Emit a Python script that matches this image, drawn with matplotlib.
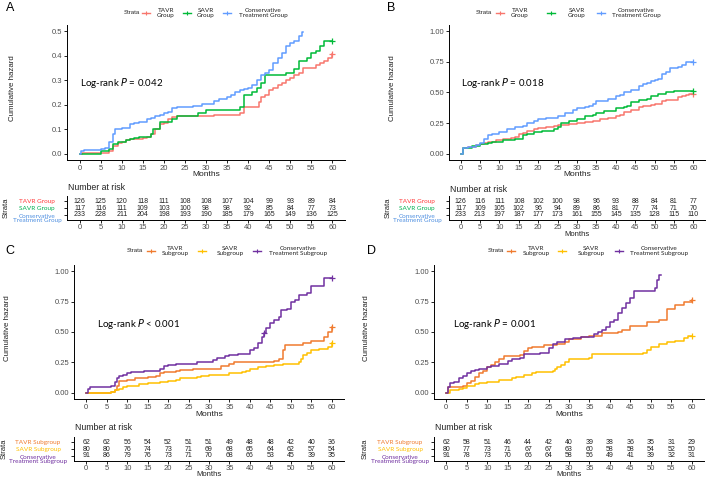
import numpy as np
import matplotlib
matplotlib.use('Agg')
import matplotlib.pyplot as plt
from matplotlib.lines import Line2D
from matplotlib import transforms

plt.rcParams['font.family'] = ['Liberation Sans', 'DejaVu Sans']

# ---------------- data ----------------
months = [0, 5, 10, 15, 20, 25, 30, 35, 40, 45, 50, 55, 60]

# Panel A
a_tavr_t = [0, 0.5, 7, 8, 9, 10, 11, 12, 15, 16, 17, 18, 19, 20, 21, 22, 23, 32, 38, 39, 42.5, 43, 44, 45, 46, 47, 48, 49, 50, 51, 52, 53, 56, 57, 58, 59, 60]
a_tavr_h = [0, 0.005, 0.01, 0.03, 0.045, 0.05, 0.055, 0.06, 0.065, 0.07, 0.08, 0.1, 0.12, 0.125, 0.14, 0.15, 0.155, 0.16, 0.165, 0.19, 0.21, 0.23, 0.24, 0.26, 0.27, 0.28, 0.29, 0.30, 0.31, 0.32, 0.33, 0.35, 0.36, 0.37, 0.38, 0.39, 0.405]
a_savr_t = [0, 5, 7, 8, 9, 11, 12, 13, 14, 17, 17.5, 19, 22, 23, 28, 30, 38, 39, 41, 42, 43, 44, 49, 51, 52, 54, 55, 56, 57, 58, 60]
a_savr_h = [0, 0.01, 0.02, 0.04, 0.05, 0.055, 0.06, 0.065, 0.07, 0.08, 0.1, 0.13, 0.14, 0.155, 0.165, 0.18, 0.19, 0.24, 0.25, 0.27, 0.29, 0.32, 0.33, 0.345, 0.38, 0.39, 0.41, 0.42, 0.44, 0.46, 0.46]
a_cons_t = [0, 0.3, 1, 5, 6, 7, 8, 8.5, 10, 12, 13, 14, 16, 17, 18, 19, 20, 21, 22, 23, 27, 29, 32, 33, 35, 36, 37, 38, 39, 40, 41, 42, 43, 44, 45, 46, 47, 48, 49, 50, 51, 52, 52.8, 53]
a_cons_h = [0, 0.01, 0.015, 0.02, 0.025, 0.05, 0.08, 0.10, 0.105, 0.12, 0.125, 0.13, 0.14, 0.145, 0.155, 0.16, 0.165, 0.17, 0.185, 0.19, 0.195, 0.205, 0.215, 0.225, 0.23, 0.24, 0.25, 0.26, 0.265, 0.27, 0.28, 0.30, 0.32, 0.33, 0.34, 0.37, 0.39, 0.41, 0.44, 0.45, 0.46, 0.48, 0.495, 0.495]
a_risk_tavr = [126, 125, 120, 118, 111, 108, 108, 107, 104, 99, 93, 89, 84]
a_risk_savr = [117, 116, 111, 109, 103, 100, 98, 98, 92, 85, 84, 77, 73]
a_risk_cons = [233, 228, 211, 204, 198, 193, 190, 185, 179, 165, 149, 136, 125]

# Panel B
b_tavr_t = [0, 0.5, 2, 4, 5, 6, 7, 9, 11, 13, 14, 15, 16, 17, 19, 20, 22, 24, 25, 28, 30, 32, 34, 36, 38, 40, 41, 42, 44, 46, 47, 49, 50, 52, 53, 56, 57, 58, 59, 60]
b_tavr_h = [0, 0.05, 0.055, 0.07, 0.08, 0.09, 0.1, 0.11, 0.12, 0.13, 0.14, 0.16, 0.17, 0.19, 0.2, 0.21, 0.22, 0.23, 0.235, 0.24, 0.25, 0.26, 0.27, 0.28, 0.29, 0.31, 0.32, 0.34, 0.36, 0.38, 0.39, 0.4, 0.41, 0.43, 0.44, 0.46, 0.47, 0.48, 0.49, 0.49]
b_savr_t = [0, 0.5, 3, 5, 7, 8, 11, 14, 16, 17, 19, 21, 24, 25, 26, 28, 30, 32, 34, 35, 37, 40, 42, 43, 44, 46, 48, 49, 51, 53, 55, 60]
b_savr_h = [0, 0.05, 0.06, 0.08, 0.09, 0.1, 0.11, 0.12, 0.15, 0.16, 0.18, 0.19, 0.2, 0.22, 0.25, 0.27, 0.28, 0.31, 0.32, 0.33, 0.35, 0.37, 0.38, 0.39, 0.42, 0.44, 0.45, 0.47, 0.49, 0.5, 0.51, 0.51]
b_cons_t = [0, 0.5, 2, 4, 5, 6, 7, 8, 10, 12, 14, 16, 17, 19, 20, 22, 25, 27, 29, 30, 32, 33, 34, 35, 38, 40, 41, 42, 44, 46, 47, 48, 49, 50, 51, 52, 53, 54, 56, 57, 58, 60]
b_cons_h = [0, 0.05, 0.055, 0.07, 0.09, 0.12, 0.15, 0.16, 0.18, 0.2, 0.22, 0.23, 0.25, 0.27, 0.28, 0.29, 0.31, 0.33, 0.36, 0.37, 0.38, 0.39, 0.41, 0.43, 0.45, 0.47, 0.48, 0.5, 0.52, 0.55, 0.57, 0.58, 0.59, 0.6, 0.61, 0.65, 0.67, 0.7, 0.71, 0.72, 0.75, 0.75]
b_risk_tavr = [126, 116, 111, 108, 102, 100, 98, 96, 93, 88, 84, 81, 77]
b_risk_savr = [117, 109, 105, 102, 96, 94, 89, 86, 81, 77, 74, 71, 70]
b_risk_cons = [233, 213, 197, 187, 177, 173, 161, 155, 145, 135, 128, 115, 110]

# Panel C
c_tavr_t = [0, 6, 7, 7.5, 8, 10, 12, 15, 17, 18, 19, 22, 23, 26, 33, 35, 36, 46, 47, 48, 48.5, 53, 55, 58, 59, 60]
c_tavr_h = [0, 0.01, 0.02, 0.06, 0.1, 0.11, 0.12, 0.13, 0.14, 0.16, 0.17, 0.18, 0.19, 0.2, 0.22, 0.24, 0.25, 0.26, 0.28, 0.35, 0.39, 0.41, 0.43, 0.46, 0.5, 0.54]
c_savr_t = [0, 6, 7, 8, 9, 10, 13, 15, 18, 20, 22, 23, 27, 28, 30, 35, 38, 39, 40, 42, 44, 46, 48, 52, 52.5, 53, 54, 55, 57, 59, 60]
c_savr_h = [0, 0.01, 0.02, 0.03, 0.05, 0.06, 0.07, 0.08, 0.09, 0.1, 0.11, 0.12, 0.13, 0.14, 0.15, 0.16, 0.17, 0.18, 0.2, 0.21, 0.22, 0.23, 0.24, 0.25, 0.28, 0.31, 0.33, 0.35, 0.36, 0.38, 0.41]
c_cons_t = [0, 0.3, 1, 5, 6, 7, 7.5, 8, 9, 10, 11, 14, 18, 19, 20, 22, 27, 31, 32, 34, 35, 37, 40, 41, 42, 43, 43.5, 44, 45, 46, 47, 47.5, 49, 50, 51, 52, 54, 55, 58, 60]
c_cons_h = [0, 0.03, 0.045, 0.05, 0.06, 0.09, 0.12, 0.14, 0.15, 0.16, 0.17, 0.18, 0.2, 0.22, 0.23, 0.24, 0.25, 0.27, 0.29, 0.3, 0.31, 0.32, 0.35, 0.37, 0.41, 0.46, 0.49, 0.53, 0.57, 0.6, 0.62, 0.68, 0.69, 0.75, 0.76, 0.8, 0.82, 0.88, 0.94, 0.94]
c_risk_tavr = [62, 62, 56, 54, 52, 51, 51, 49, 48, 48, 42, 40, 36]
c_risk_savr = [80, 80, 76, 74, 73, 71, 69, 68, 65, 64, 62, 57, 54]
c_risk_cons = [91, 86, 79, 76, 73, 71, 70, 68, 66, 53, 45, 39, 35]

# Panel D
d_tavr_t = [0, 0.5, 4, 5, 6, 7, 8, 9, 10, 11, 12, 13, 14, 18, 19, 20, 21, 24, 27, 29, 30, 33, 35, 38, 42, 43, 45, 49, 52, 54, 56, 58, 60]
d_tavr_h = [0, 0.05, 0.06, 0.08, 0.1, 0.13, 0.16, 0.18, 0.21, 0.23, 0.25, 0.28, 0.3, 0.31, 0.34, 0.37, 0.38, 0.39, 0.4, 0.42, 0.44, 0.46, 0.47, 0.49, 0.5, 0.52, 0.55, 0.58, 0.6, 0.69, 0.72, 0.75, 0.76]
d_savr_t = [0, 1, 3, 4, 5, 7, 8, 10, 13, 16, 17, 19, 21, 22, 26, 26.5, 27, 28, 29, 30, 35, 35.5, 48, 49, 50, 52, 54, 56, 58, 59, 60]
d_savr_h = [0, 0.02, 0.03, 0.04, 0.06, 0.07, 0.08, 0.09, 0.11, 0.12, 0.13, 0.15, 0.16, 0.17, 0.18, 0.2, 0.21, 0.23, 0.25, 0.28, 0.29, 0.32, 0.33, 0.35, 0.38, 0.4, 0.42, 0.43, 0.45, 0.47, 0.47]
d_cons_t = [0, 0.5, 1, 2, 3, 4, 5, 6, 7, 8, 10, 11, 13, 15, 16, 18, 19, 23, 25, 26, 27, 29, 31, 33, 36, 37, 38, 39, 40, 41, 42, 43, 44, 45, 46, 51, 51.5, 52, 52.5]
d_cons_h = [0, 0.05, 0.08, 0.09, 0.12, 0.14, 0.16, 0.18, 0.19, 0.2, 0.21, 0.22, 0.24, 0.26, 0.28, 0.29, 0.32, 0.33, 0.37, 0.4, 0.42, 0.44, 0.45, 0.46, 0.48, 0.5, 0.52, 0.54, 0.58, 0.6, 0.66, 0.7, 0.74, 0.78, 0.84, 0.86, 0.93, 0.97, 0.97]
d_risk_tavr = [62, 58, 51, 46, 44, 42, 40, 39, 38, 36, 35, 31, 29]
d_risk_savr = [80, 77, 73, 71, 67, 67, 63, 60, 58, 58, 54, 52, 50]
d_risk_cons = [91, 78, 73, 70, 66, 64, 58, 56, 49, 41, 39, 32, 31]

group_names = ['TAVR\nGroup', 'SAVR\nGroup', 'Conservative\nTreatment Group']
group_rows = ['TAVR Group', 'SAVR Group', 'Conservative\nTreatment Group']
sub_names = ['TAVR\nSubgroup', 'SAVR\nSubgroup', 'Conservative\nTreatment Subgroup']
sub_rows = ['TAVR Subgroup', 'SAVR Subgroup', 'Conservative\nTreatment Subgroup']

col_ab = ['#F8766D', '#00BA38', '#619CFF']
lab_ab = ['#FF3B3B', '#00B050', '#4F8FE0']
col_cd = ['#F07B2F', '#FFC000', '#7030A0']
lab_cd = ['#F07B2F', '#FFC000', '#7030A0']

W, H = 708, 480
fig = plt.figure(figsize=(W / 100, H / 100), dpi=100)


def fx(x):
    return x / W


def fy(y):
    return 1 - y / H


def px_axes(l, t, r, b):
    return fig.add_axes([l / W, 1 - b / H, (r - l) / W, (b - t) / H])


def style(ax, pad=1.5):
    for s in ['top', 'right']:
        ax.spines[s].set_visible(False)
    for s in ['left', 'bottom']:
        ax.spines[s].set_linewidth(0.7)
    ax.tick_params(length=2, width=0.6, labelsize=5.5, labelcolor='#4D4D4D', pad=pad)


panels = [
    dict(letter='A', lx=10, ly=8,
         plot=(67, 25, 345, 160), ylim=(-0.025, 0.525), yticks=[0, 0.1, 0.2, 0.3, 0.4, 0.5], yfmt='{:.1f}',
         curves=[(a_tavr_t, a_tavr_h), (a_savr_t, a_savr_h), (a_cons_t, a_cons_h)],
         cens=[[60], [60], []],
         colors=col_ab, labcols=lab_ab, names=group_names, rows=group_rows,
         pval='Log-rank $P$ = 0.042', pxy=(0.2, 0.289),
         ylab_x=13, xlab_y=175, leg_y=13,
         leg=[(132, 146, 166), (187, 206), (227, 263)],
         table=(196, 220), nar_y=188, lab_x=37, strata_x=6, tx_lab_y=None,
         risks=[a_risk_tavr, a_risk_savr, a_risk_cons]),
    dict(letter='B', lx=391, ly=8,
         plot=(449, 25, 705, 160), ylim=(-0.05, 1.05), yticks=[0, 0.25, 0.5, 0.75, 1.0], yfmt='{:.2f}',
         curves=[(b_tavr_t, b_tavr_h), (b_savr_t, b_savr_h), (b_cons_t, b_cons_h)],
         cens=[[60], [60], [60]],
         colors=col_ab, labcols=lab_ab, names=group_names, rows=group_rows,
         pval='Log-rank $P$ = 0.018', pxy=(0.0, 0.58),
         ylab_x=392, xlab_y=174, leg_y=13,
         leg=[(484, 500, 520), (551, 577), (601, 636)],
         table=(196, 220), nar_y=189, lab_x=417, strata_x=388, tx_lab_y=235,
         risks=[b_risk_tavr, b_risk_savr, b_risk_cons]),
    dict(letter='C', lx=10, ly=251,
         plot=(74, 265, 344, 399), ylim=(-0.05, 1.05), yticks=[0, 0.25, 0.5, 0.75, 1.0], yfmt='{:.2f}',
         curves=[(c_tavr_t, c_tavr_h), (c_savr_t, c_savr_h), (c_cons_t, c_cons_h)],
         cens=[[60], [60], [43.5, 60]],
         colors=col_cd, labcols=lab_cd, names=sub_names, rows=sub_rows,
         pval='Log-rank $P$ < 0.001', pxy=(2.7, 0.565),
         ylab_x=8, xlab_y=414, leg_y=251,
         leg=[(135, 151, 175), (202, 230), (257, 298)],
         table=(437, 461), nar_y=428, lab_x=38, strata_x=4, tx_lab_y=475,
         risks=[c_risk_tavr, c_risk_savr, c_risk_cons]),
    dict(letter='D', lx=371, ly=251,
         plot=(434, 265, 704, 399), ylim=(-0.05, 1.05), yticks=[0, 0.25, 0.5, 0.75, 1.0], yfmt='{:.2f}',
         curves=[(d_tavr_t, d_tavr_h), (d_savr_t, d_savr_h), (d_cons_t, d_cons_h)],
         cens=[[60], [60], []],
         colors=col_cd, labcols=lab_cd, names=sub_names, rows=sub_rows,
         pval='Log-rank $P$ = 0.001', pxy=(1.7, 0.565),
         ylab_x=367, xlab_y=414, leg_y=251,
         leg=[(496, 511, 536), (562, 591), (619, 659)],
         table=(437, 461), nar_y=428, lab_x=400, strata_x=365, tx_lab_y=475,
         risks=[d_risk_tavr, d_risk_savr, d_risk_cons]),
]

for p in panels:
    l, t, r, b = p['plot']
    ax = px_axes(l, t, r, b)
    style(ax)
    for (tt, hh), c, cen in zip(p['curves'], p['colors'], p['cens']):
        ax.step(tt, hh, where='post', color=c, lw=1.1)
        for ct in cen:
            idx = np.searchsorted(tt, ct, side='right') - 1
            ax.plot(ct, hh[idx], marker='+', color=c, ms=4, mew=0.9)
    ax.set_xlim(-3, 63)
    ax.set_ylim(*p['ylim'])
    ax.set_xticks(months)
    ax.set_yticks(p['yticks'])
    ax.set_yticklabels([p['yfmt'].format(v) for v in p['yticks']])
    ax.text(p['pxy'][0], p['pxy'][1], p['pval'], fontsize=7, family=['Lato', 'DejaVu Sans'],
            va='center', ha='left', color='black')
    fig.text(fx(p['ylab_x']), fy((t + b) / 2 - 4), 'Cumulative hazard', rotation=90,
             fontsize=5.7, ha='center', va='center', color='#222222')
    fig.text(fx((l + r) / 2), fy(p['xlab_y']), 'Months', fontsize=6, ha='center', va='center', color='#222222')
    fig.text(fx(p['lx']), fy(p['ly']), p['letter'], fontsize=9, ha='center', va='center')

    # legend
    lg = p['leg']
    fig.text(fx(lg[0][0]), fy(p['leg_y']), 'Strata', fontsize=4.3, ha='center', va='center', color='#222222')
    keys = [(lg[0][1], lg[0][2]), lg[1], lg[2]]
    for (kx, tx), c, nm in zip(keys, p['colors'], p['names']):
        fig.add_artist(Line2D([fx(kx - 4), fx(kx + 4)], [fy(p['leg_y'])] * 2, transform=fig.transFigure,
                              color=c, lw=1.0))
        fig.add_artist(Line2D([fx(kx)], [fy(p['leg_y'])], transform=fig.transFigure,
                              color=c, marker='+', ms=3.5, mew=0.8))
        fig.text(fx(tx), fy(p['leg_y']), nm, fontsize=4.6, ha='center', va='center',
                 family=['Lato', 'DejaVu Sans'], color='#222222', linespacing=0.95)

    # risk table
    tt_top, tt_bot = p['table']
    tab = px_axes(l, tt_top, r, tt_bot)
    style(tab, pad=0.8)
    tab.set_xlim(-3, 63)
    tab.set_ylim(2.75, -0.8)
    tab.set_xticks(months)
    tab.set_yticks([0, 1, 2])
    tab.set_yticklabels([])
    tab.patch.set_alpha(0)
    for i, vals in enumerate(p['risks']):
        for m, v in zip(months, vals):
            tab.text(m, i, str(v), fontsize=5, ha='center', va='center', color='#222222')
    bt = transforms.blended_transform_factory(fig.transFigure, tab.transData)
    for i, (nm, c) in enumerate(zip(p['rows'], p['labcols'])):
        yy = i + 0.55 if '\n' in nm else i
        tab.text(fx(p['lab_x']), yy, nm, transform=bt, fontsize=4.6, ha='center', va='center',
                 color=c, family=['Lato', 'DejaVu Sans'], linespacing=0.85)
    fig.text(fx(l + 1), fy(p['nar_y']), 'Number at risk', fontsize=6.3, ha='left', va='center', color='#222222')
    fig.text(fx(p['strata_x']), fy((tt_top + tt_bot) / 2), 'Strata', rotation=90, fontsize=5.5,
             ha='center', va='center', color='#222222')
    if p['tx_lab_y'] is not None:
        fig.text(fx((l + r) / 2), fy(p['tx_lab_y']), 'Months', fontsize=5.5, ha='center', va='center', color='#222222')

fig.savefig('out.png', dpi=100)
